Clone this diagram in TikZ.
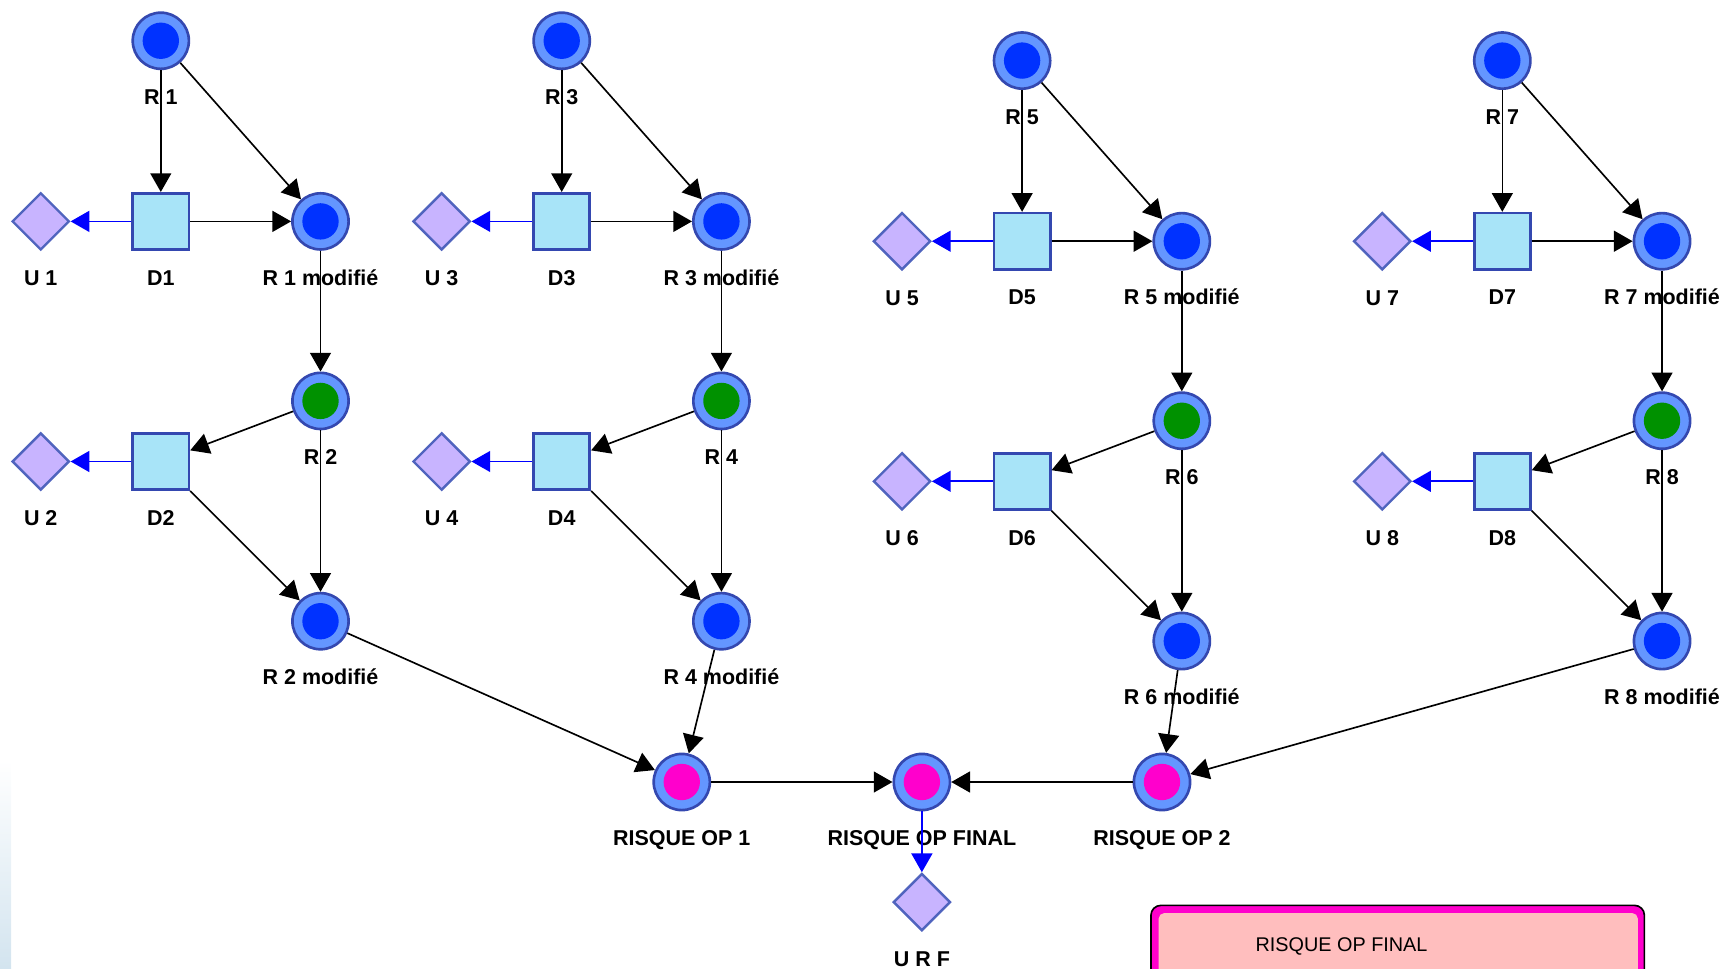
\documentclass[tikz,border=0pt]{standalone}
\usepackage{fontspec}
\setmainfont{Liberation Sans}
\usetikzlibrary{arrows.meta,shapes.geometric}

\definecolor{ringfill}{HTML}{6496FF}
\definecolor{ringline}{HTML}{3448B0}
\definecolor{riskblue}{HTML}{0032FF}
\definecolor{riskgreen}{HTML}{009100}
\definecolor{riskpink}{HTML}{FF00CC}
\definecolor{decfill}{HTML}{A8E4F8}
\definecolor{utilfill}{HTML}{C8B4FF}
\definecolor{utilline}{HTML}{5064BE}
\definecolor{panelfill}{HTML}{FFBEBE}
\definecolor{edgeshade}{HTML}{D3E4EF}

\tikzset{
  risk/.style={circle, draw=ringline, fill=ringfill, line width=2.4pt,
    minimum size=51pt, inner sep=0pt,
    path picture={\fill[#1] (path picture bounding box.center) circle (16.5pt);}},
  decision/.style={rectangle, draw=ringline, fill=decfill, line width=2.4pt,
    minimum size=51pt, inner sep=0pt},
  utility/.style={diamond, draw=utilline, fill=utilfill, line width=2.2pt,
    minimum size=52pt, inner sep=0pt},
  lbl/.style={font=\bfseries\fontsize{19.5}{22}\selectfont,
    text height=14pt, text depth=0pt, inner sep=0pt}
}

\begin{document}
\begin{tikzpicture}[x=1pt, y=-1pt, >={Triangle[length=17pt, width=19pt]},
    every label/.style=lbl, label distance=17pt,
    every edge/.style={draw, line width=1.5pt}]
    \useasboundingbox (0,0) rectangle (1568,879);
    \shade[top color=white, bottom color=edgeshade] (0,690) rectangle (10,879);
    \begin{scope}
      % Group of $R_1$, $R_2$
      \node(R1) [risk=riskblue, label=below:R 1] at (146,37) {};
      \node(D1) [decision, label=below:D1] at (146,201) {};
      \node(U1) [utility, label=below:U 1] at (37,201) {};
      \node(R1m)[risk=riskblue, label=below:R 1 modifié] at (291,201) {};
      \node(R2) [risk=riskgreen, label=below:R 2] at (291,364) {};
      \node(D2) [decision, label=below:D2] at (146,419) {};
      \node(U2) [utility, label=below:U 2] at (37,419) {};
      \node(R2m)[risk=riskblue, label=below:R 2 modifié] at (291,564) {};
    \end{scope}
    \begin{scope}[xshift=364pt]
      % Group of $R_3$, $R_4$
      \node(R3) [risk=riskblue, label=below:R 3] at (146,37) {};
      \node(D3) [decision, label=below:D3] at (146,201) {};
      \node(U3) [utility, label=below:U 3] at (37,201) {};
      \node(R3m)[risk=riskblue, label=below:R 3 modifié] at (291,201) {};
      \node(R4) [risk=riskgreen, label=below:R 4] at (291,364) {};
      \node(D4) [decision, label=below:D4] at (146,419) {};
      \node(U4) [utility, label=below:U 4] at (37,419) {};
      \node(R4m)[risk=riskblue, label=below:R 4 modifié] at (291,564) {};
    \end{scope}
    \begin{scope}[xshift=782pt, yshift=-18pt]
      % Group of $R_5$, $R_6$
      \node(R5) [risk=riskblue, label=below:R 5] at (146,37) {};
      \node(D5) [decision, label=below:D5] at (146,201) {};
      \node(U5) [utility, label=below:U 5] at (37,201) {};
      \node(R5m)[risk=riskblue, label=below:R 5 modifié] at (291,201) {};
      \node(R6) [risk=riskgreen, label=below:R 6] at (291,364) {};
      \node(D6) [decision, label=below:D6] at (146,419) {};
      \node(U6) [utility, label=below:U 6] at (37,419) {};
      \node(R6m)[risk=riskblue, label=below:R 6 modifié] at (291,564) {};
    \end{scope}
    \begin{scope}[xshift=1218pt, yshift=-18pt]
      % Group of $R_7$, $R_8$
      \node(R7) [risk=riskblue, label=below:R 7] at (146,37) {};
      \node(D7) [decision, label=below:D7] at (146,201) {};
      \node(U7) [utility, label=below:U 7] at (37,201) {};
      \node(R7m)[risk=riskblue, label=below:R 7 modifié] at (291,201) {};
      \node(R8) [risk=riskgreen, label=below:R 8] at (291,364) {};
      \node(D8) [decision, label=below:D8] at (146,419) {};
      \node(U8) [utility, label=below:U 8] at (37,419) {};
      \node(R8m)[risk=riskblue, label=below:R 8 modifié] at (291,564) {};
    \end{scope}
    % Final risk
    \node(ROP1)[risk=riskpink, label=below:RISQUE OP 1] at (619,710) {};
    \node(ROPF)[risk=riskpink, label=below:RISQUE OP FINAL] at (837,710) {};
    \node(ROP2)[risk=riskpink, label=below:RISQUE OP 2] at (1055,710) {};
    \node(URF) [utility, label=below:U R F] at (837,819) {};
    \foreach \a/\b/\c/\d/\e/\f/\g/\h in {R1/D1/U1/R1m/R2/D2/U2/R2m,
        R3/D3/U3/R3m/R4/D4/U4/R4m, R5/D5/U5/R5m/R6/D6/U6/R6m,
        R7/D7/U7/R7m/R8/D8/U8/R8m} {
      \path (\a) edge[->] (\b);
      \path (\a) edge[->] (\d);
      \path (\b) edge[->] (\d);
      \path (\b) edge[->, blue] (\c);
      \path (\d) edge[->] (\e);
      \path (\e) edge[->] (\f);
      \path (\f) edge[->, blue] (\g);
      \path (\f) edge[->] (\h);
      \path (\e) edge[->] (\h);
    }
    \path (R2m)  edge[->] (ROP1);
    \path (R4m)  edge[->] (ROP1);
    \path (R6m)  edge[->] (ROP2);
    \path (R8m)  edge[->] (ROP2);
    \path (ROP1) edge[->] (ROPF);
    \path (ROP2) edge[->] (ROPF);
    \path (ROPF) edge[->, blue] (URF);
    % Panel
    \draw[black, line width=1.5pt, fill=riskpink, rounded corners=9pt]
      (1045,822) rectangle (1493,900);
    \fill[panelfill, rounded corners=5pt] (1052,829) rectangle (1487,900);
    \node(final)[font=\fontsize{18}{22}\selectfont] at (1218,859) {RISQUE OP FINAL};
\end{tikzpicture}
\end{document}
